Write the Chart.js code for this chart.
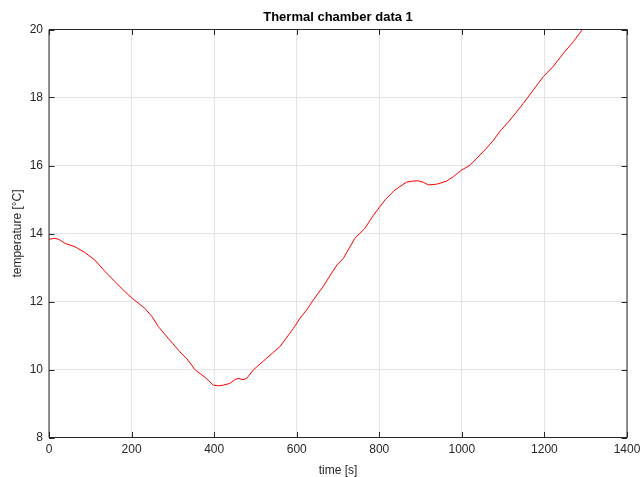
<!DOCTYPE html>
<html>
<head>
    <title>Thermal chamber data 1</title>
    <script src="https://cdn.jsdelivr.net/npm/chart.js@4.4.1/dist/chart.umd.min.js"></script>
    <style>
        body { margin: 0; background: #fff; }
        canvas { display: block; }
    </style>
</head>
<body>
    <canvas id="grafico" width="641" height="477"></canvas>
    <script>
        // dados
        var tempos = [0, 15, 25, 39, 63, 87, 111, 136, 160, 184, 202, 232, 250, 265, 290, 317, 333, 354, 378, 398,
            410, 422, 438, 450, 458, 470, 479, 495, 527, 559, 592, 608, 624, 640, 664, 697, 713, 741, 765, 786,
            814, 835, 850, 866, 880, 894, 906, 919, 939, 963, 979, 1000, 1020, 1044, 1056, 1075, 1092, 1117, 1149, 1173,
            1197, 1221, 1246, 1270, 1292];
        var temperaturas = [13.83, 13.86, 13.82, 13.71, 13.61, 13.44, 13.22, 12.88, 12.58, 12.29, 12.09, 11.80, 11.55, 11.26, 10.90, 10.52, 10.33, 9.99, 9.77, 9.54,
            9.52, 9.54, 9.59, 9.70, 9.74, 9.70, 9.74, 9.99, 10.33, 10.67, 11.21, 11.51, 11.75, 12.04, 12.44, 13.07, 13.27, 13.86, 14.15, 14.54,
            14.99, 15.25, 15.38, 15.51, 15.54, 15.55, 15.51, 15.43, 15.45, 15.54, 15.67, 15.87, 16.01, 16.31, 16.46, 16.72, 17.00, 17.34, 17.83, 18.22,
            18.61, 18.91, 19.30, 19.64, 20.0];
        var xTicks = [0, 200, 400, 600, 800, 1000, 1200, 1400];
        var yTicks = [8, 10, 12, 14, 16, 18, 20];

        var titulo = 'Thermal chamber data 1';
        var corEixo = '#262626';
        var fonte = '"Liberation Sans", Arial, sans-serif';

        // moldura com marcas para dentro e titulo, estilo matlab
        var moldura = {
            id: 'moldura',
            afterDraw: function (chart) {
                var ctx = chart.ctx;
                var a = chart.chartArea;
                var sx = chart.scales.x, sy = chart.scales.y;
                var tl = 5.5;
                ctx.save();
                ctx.strokeStyle = corEixo;
                ctx.lineWidth = 1;
                ctx.beginPath();
                ctx.rect(a.left, a.top, a.right - a.left, a.bottom - a.top);
                xTicks.forEach(function (v) {
                    var px = Math.round(sx.getPixelForValue(v)) + 0.5;
                    ctx.moveTo(px, a.bottom); ctx.lineTo(px, a.bottom - tl);
                    ctx.moveTo(px, a.top); ctx.lineTo(px, a.top + tl);
                });
                yTicks.forEach(function (v) {
                    var py = Math.round(sy.getPixelForValue(v)) + 0.5;
                    ctx.moveTo(a.left, py); ctx.lineTo(a.left + tl, py);
                    ctx.moveTo(a.right, py); ctx.lineTo(a.right - tl, py);
                });
                ctx.stroke();
                ctx.fillStyle = '#000';
                ctx.font = 'bold 13px ' + fonte;
                ctx.textAlign = 'center';
                ctx.textBaseline = 'middle';
                ctx.fillText(titulo, (a.left + a.right) / 2, 17);
                ctx.restore();
            }
        };

        var pontos = tempos.map(function (t, i) { return { x: t, y: temperaturas[i] }; });

        var chart = new Chart(document.getElementById('grafico').getContext('2d'), {
            type: 'line',
            data: {
                datasets: [{
                    label: 'temperature',
                    data: pontos,
                    borderColor: '#ff0000',
                    borderWidth: 1,
                    pointRadius: 0,
                    tension: 0,
                    fill: false
                }]
            },
            options: {
                responsive: false,
                animation: false,
                layout: { padding: { top: 29.5, right: 14, left: 0, bottom: 0 } },
                plugins: {
                    legend: { display: false },
                    title: { display: false },
                    tooltip: { enabled: false }
                },
                scales: {
                    x: {
                        type: 'linear',
                        min: 0,
                        max: 1400,
                        afterFit: function (s) { s.height = 39.5; s.paddingLeft = 0; s.paddingRight = 0; },
                        afterBuildTicks: function (s) { s.ticks = xTicks.map(function (v) { return { value: v }; }); },
                        ticks: {
                            color: corEixo, font: { family: fonte, size: 12 }, padding: 5, maxRotation: 0, autoSkip: false,
                            callback: function (v) { return String(v); }
                        },
                        grid: { color: '#e3e3e3', drawTicks: false },
                        border: { display: false },
                        title: { display: true, text: 'time [s]', color: corEixo, font: { family: fonte, size: 12, lineHeight: 1 }, padding: { top: 0, bottom: 0 } }
                    },
                    y: {
                        min: 8,
                        max: 20,
                        afterFit: function (s) { s.width = 49; s.paddingTop = 0; s.paddingBottom = 0; },
                        afterBuildTicks: function (s) { s.ticks = yTicks.map(function (v) { return { value: v }; }); },
                        ticks: { color: corEixo, font: { family: fonte, size: 12 }, padding: 6 },
                        grid: { color: '#e3e3e3', drawTicks: false },
                        border: { display: false },
                        title: { display: true, text: 'temperature [°C]', color: corEixo, font: { family: fonte, size: 12 }, padding: { top: 10, bottom: 0 } }
                    }
                }
            },
            plugins: [moldura]
        });
    </script>
</body>
</html>
